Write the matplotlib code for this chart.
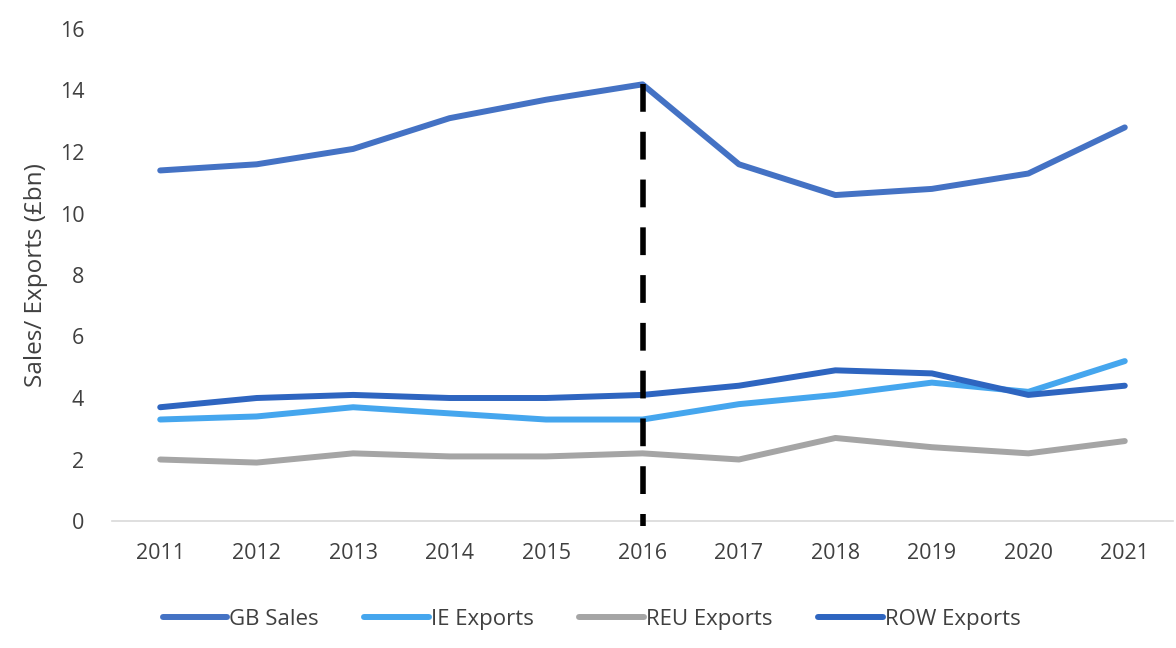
import matplotlib
matplotlib.use("Agg")
import matplotlib.pyplot as plt

years = ["2011", "2012", "2013", "2014", "2015", "2016", "2017", "2018", "2019", "2020", "2021"]
gb_sales = [11.4, 11.6, 12.1, 13.1, 13.7, 14.2, 11.6, 10.6, 10.8, 11.3, 12.8]
ie_exports = [3.3, 3.4, 3.7, 3.5, 3.3, 3.3, 3.8, 4.1, 4.5, 4.2, 5.2]
reu_exports = [2.0, 1.9, 2.2, 2.1, 2.1, 2.2, 2.0, 2.7, 2.4, 2.2, 2.6]
row_exports = [3.7, 4.0, 4.1, 4.0, 4.0, 4.1, 4.4, 4.9, 4.8, 4.1, 4.4]
marker_year = "2016"

plt.rcParams["font.family"] = ["Open Sans", "DejaVu Sans"]

fig = plt.figure(figsize=(11.76, 6.48), dpi=100)
ax = fig.add_axes([112 / 1176, 127 / 648, 1061 / 1176, 492 / 648])

x = list(range(len(years)))
lw = 4.3
ax.plot(x, gb_sales, color="#4472C4", lw=lw, label="GB Sales", solid_capstyle="round")
ax.plot(x, ie_exports, color="#45A6EE", lw=lw, label="IE Exports", solid_capstyle="round")
ax.plot(x, reu_exports, color="#A5A5A5", lw=lw, label="REU Exports", solid_capstyle="round")
ax.plot(x, row_exports, color="#2E65C0", lw=lw, label="ROW Exports", solid_capstyle="round")

# dashed marker line at 2016
xi = years.index(marker_year)
ax.plot([xi, xi], [gb_sales[xi], -0.15], color="black", lw=4.0,
        dashes=(5.0, 3.6), clip_on=False, zorder=5)

ax.set_xlim(-0.5, len(years) - 0.5)
ax.set_ylim(0, 16)
ax.set_yticks(range(0, 17, 2))
ax.set_xticks(x)
ax.set_xticklabels(years)
ax.tick_params(axis="both", length=0, labelsize=15.5, colors="#404040")
ax.tick_params(axis="x", pad=16)
ax.tick_params(axis="y", pad=20)

for s in ["top", "right", "left"]:
    ax.spines[s].set_visible(False)
ax.spines["bottom"].set_color("#D9D9D9")
ax.spines["bottom"].set_linewidth(1.2)

ax.set_ylabel("Sales/ Exports (£bn)", fontsize=17.5, color="#404040", labelpad=8)

ax.legend(loc="center", bbox_to_anchor=(0.452, -0.2), ncol=4, frameon=False,
          fontsize=16, handlelength=2.9, handletextpad=0.1, columnspacing=2.05,
          labelcolor="#404040")

fig.savefig("out.png", dpi=100, facecolor="white")
